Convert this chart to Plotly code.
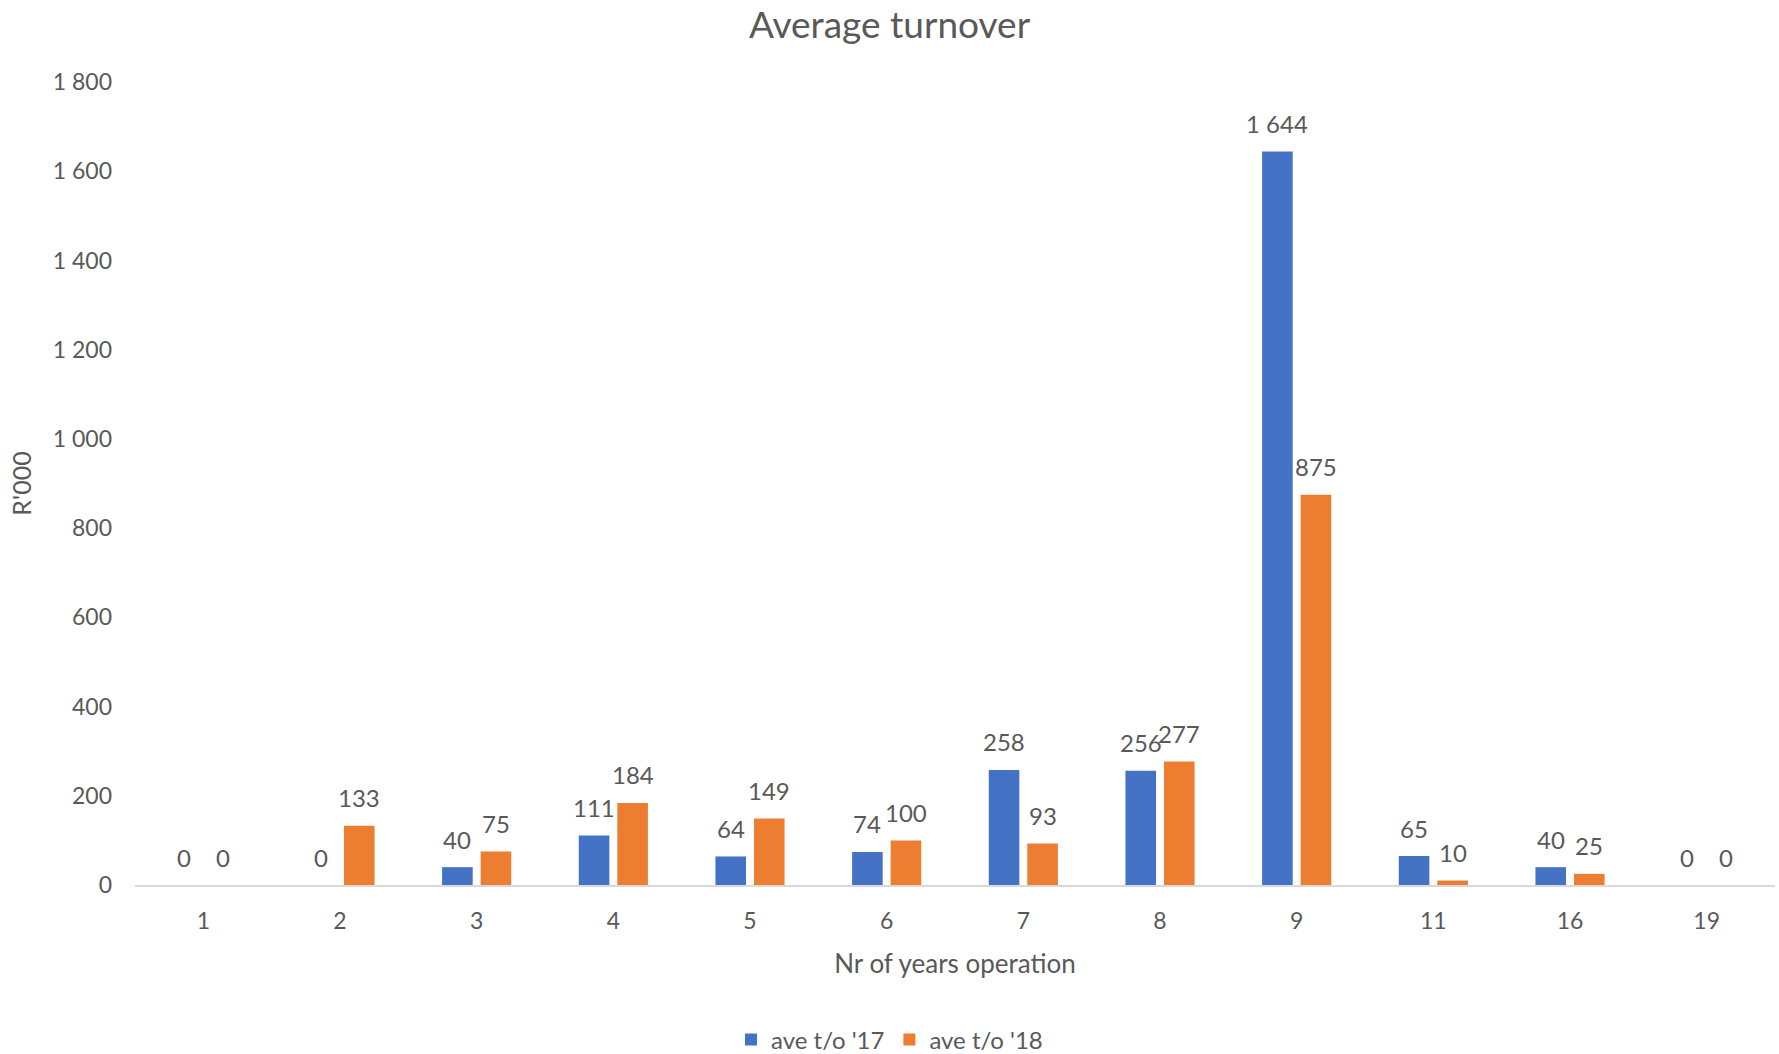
import plotly.graph_objects as go

# Average turnover by number of years in operation (R'000)
years = ["1", "2", "3", "4", "5", "6", "7", "8", "9", "11", "16", "19"]
turnover_2017 = [0, 0, 40, 111, 64, 74, 258, 256, 1644, 65, 40, 0]
turnover_2018 = [0, 133, 75, 184, 149, 100, 93, 277, 875, 10, 25, 0]
y_ticks = [0, 200, 400, 600, 800, 1000, 1200, 1400, 1600, 1800]

BLUE = "#4472C4"
ORANGE = "#ED7D31"
TEXT = "#595959"
FONT = "Lato, 'Open Sans', sans-serif"

W, H = 1779, 1054
M_L, M_R, M_T, M_B = 135, 4, 82, 169
BARGAP = 0.436
BARGROUPGAP = 0.206
PLOT_W = W - M_L - M_R
PLOT_H = H - M_T - M_B


def fmt(v):
    # thousands separated by a space, e.g. 1 644
    return f"{v:,}".replace(",", " ")


series = [
    ("ave t/o '17", turnover_2017, BLUE),
    ("ave t/o '18", turnover_2018, ORANGE),
]

fig = go.Figure()
for name, vals, color in series:
    fig.add_trace(
        go.Bar(
            x=years,
            y=vals,
            name=name,
            marker=dict(color=color, line=dict(width=0)),
        )
    )

# value labels sit a little above each bar, centred on it;
# on a category axis annotations are placed by category index
cat_px = PLOT_W / len(years)
slot_px = cat_px * (1 - BARGAP) / len(series)
annotations = []
for i, (name, vals, color) in enumerate(series):
    xshift = (i - (len(series) - 1) / 2) * slot_px
    for idx, v in enumerate(vals):
        annotations.append(
            dict(
                x=idx,
                y=v,
                xref="x",
                yref="y",
                text=fmt(v),
                showarrow=False,
                xshift=xshift,
                yshift=28,
                yanchor="middle",
                font=dict(family=FONT, size=24, color=TEXT),
            )
        )

fig.update_layout(
    width=W,
    height=H,
    paper_bgcolor="white",
    plot_bgcolor="white",
    separators=". ",
    barmode="group",
    bargap=BARGAP,
    bargroupgap=BARGROUPGAP,
    margin=dict(l=M_L, r=M_R, t=M_T, b=M_B, autoexpand=False),
    font=dict(family=FONT, color=TEXT),
    annotations=annotations,
    title=dict(
        text="Average turnover",
        x=0.5,
        xref="container",
        xanchor="center",
        y=1 - 25 / H,
        yanchor="middle",
        font=dict(family=FONT, size=37, color=TEXT),
    ),
    legend=dict(
        orientation="h",
        x=(W / 2 - M_L) / PLOT_W,
        xanchor="center",
        y=-155 / PLOT_H,
        yanchor="middle",
        font=dict(family=FONT, size=24, color=TEXT),
        traceorder="normal",
    ),
    xaxis=dict(
        type="category",
        categoryorder="array",
        categoryarray=years,
        range=[-0.5, len(years) - 0.5],
        showgrid=False,
        showline=True,
        linecolor="#d9d9d9",
        linewidth=1.5,
        ticks="",
        tickfont=dict(family=FONT, size=23, color=TEXT),
        ticklabelstandoff=15,
        title=dict(
            text="Nr of years operation",
            font=dict(family=FONT, size=26, color=TEXT),
            standoff=21,
        ),
    ),
    yaxis=dict(
        range=[0, 1800],
        tickvals=y_ticks,
        separatethousands=True,
        showgrid=False,
        zeroline=False,
        showline=False,
        ticks="",
        tickfont=dict(family=FONT, size=23, color=TEXT),
        ticklabelstandoff=22,
        title=dict(
            text="R'000",
            font=dict(family=FONT, size=25, color=TEXT),
            standoff=14,
        ),
    ),
)

fig.write_html("out.html")
